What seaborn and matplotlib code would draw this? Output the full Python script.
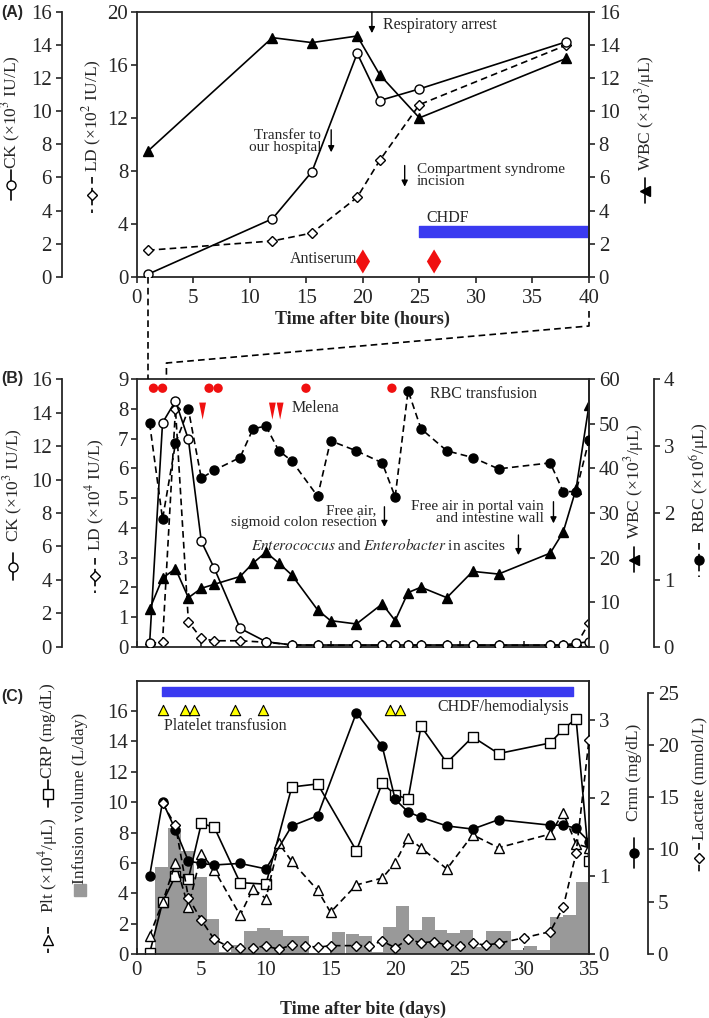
#!/usr/bin/env python3
# -*- coding: utf-8 -*-

"""
Time course of lab values after the bite, three stacked panels
"""

import numpy as np
import pandas as pd
import seaborn as sns
import matplotlib.pyplot as plt
from matplotlib.lines import Line2D
from matplotlib.path import Path

# ---- (A) first 40 hours ----
hours_a = [1, 12, 15.5, 19.5, 21.5, 25, 38]
ck_a = [0.15, 3.5, 6.35, 13.5, 10.65, 11.35, 14.2]
ld_a = [2.0, 2.7, 3.3, 6.0, 8.8, 13.0, 17.5]
wbc_a = [7.6, 14.45, 14.15, 14.55, 12.2, 9.6, 13.2]
antiserum_hours = [20.0, 26.3]

# ---- (B) days ----
days_b = [1, 2, 3, 4, 5, 6, 8, 9, 10, 11, 12, 14, 15, 17, 19, 20, 21, 22, 24, 26, 28, 32, 33, 34, 35]
wbc_b = [8.4, 15.4, 17.5, 11.0, 13.1, 14.0, 15.75, 18.75, 21.2, 18.75, 16.1, 8.25, 5.85, 5.1,
         9.6, 5.85, 12.15, 13.35, 11.0, 16.9, 16.3, 21.0, 25.7, 35.4, 54.2]
rbc_b = [3.34, 1.91, 3.04, 3.55, 2.52, 2.64, 2.83, 3.26, 3.3, 2.93, 2.78, 2.25, 3.08, 2.93,
         2.75, 2.24, 3.83, 3.26, 2.93, 2.83, 2.66, 2.75, 2.32, 2.32, 3.09]
ck_days_b = [1, 2, 3, 4, 5, 6, 8, 10, 12, 14, 17, 19, 20, 21, 22, 24, 26, 28, 32, 33, 34, 35]
ck_b = [0.2, 13.4, 14.7, 12.4, 6.3, 4.7, 1.1, 0.3, 0.1, 0.1, 0.1, 0.1, 0.1, 0.1, 0.1, 0.1,
        0.1, 0.1, 0.1, 0.1, 0.2, 0.3]
ld_b = [0.1, 0.17, 8.0, 0.84, 0.28, 0.2, 0.2, 0.15, 0.06, 0.05, 0.05, 0.05, 0.05, 0.05, 0.05,
        0.05, 0.05, 0.05, 0.05, 0.05, 0.05, 0.8]
rbc_transfusion_days = [1.3, 2.0, 5.6, 6.3, 13.1, 19.75]
melena_days = [5.1, 10.5, 11.1]

# ---- (C) days ----
crp_days = [1, 2, 3, 4, 5, 6, 8, 10, 12, 14, 17, 19, 20, 21, 22, 24, 26, 28, 32, 33, 34, 35]
crp = [0.05, 3.4, 5.15, 4.95, 8.6, 8.35, 4.7, 4.6, 11.0, 11.2, 6.8, 11.25, 10.5, 10.2, 15.0,
       12.6, 14.3, 13.2, 13.9, 14.8, 15.5, 6.1]
crnn = [1.0, 1.95, 1.59, 1.19, 1.16, 1.14, 1.16, 1.09, 1.64, 1.77, 3.09, 2.66, 1.98, 1.82,
        1.75, 1.64, 1.6, 1.72, 1.65, 1.65, 1.61, 1.44]
plt_days = [1, 2, 3, 4, 5, 6, 8, 9, 10, 11, 12, 14, 15, 17, 19, 20, 21, 22, 24, 26, 28, 32, 33, 34, 35]
plt_vals = [1.2, 3.4, 6.0, 3.1, 6.6, 5.55, 2.55, 4.3, 3.65, 7.3, 6.1, 4.2, 2.75, 4.55, 5.0,
            6.0, 7.65, 7.0, 5.6, 7.85, 7.0, 7.9, 9.3, 7.25, 7.0]
lactate_days = [2, 3, 4, 5, 6, 7, 8, 9, 10, 11, 12, 13, 14, 15, 17, 18, 19, 20, 21, 22, 23,
                24, 25, 26, 27, 28, 30, 32, 33, 34, 35]
lactate = [14.4, 12.3, 5.4, 3.25, 1.4, 0.77, 0.54, 0.6, 0.77, 0.45, 0.86, 0.8, 0.64, 0.8, 0.8,
           0.8, 1.24, 0.6, 1.4, 1.08, 1.18, 0.86, 0.8, 1.02, 0.86, 1.02, 1.56, 2.14, 4.47,
           9.63, 20.5]
infusion_x = [1.9, 2.9, 3.95, 4.95, 5.9, 6.85, 7.8, 8.8, 9.8, 10.8, 11.8, 12.8, 15.6, 16.7,
              17.7, 18.6, 19.55, 20.6, 21.6, 22.6, 23.55, 24.5, 25.5, 26.5, 27.5, 28.5, 29.5,
              30.5, 31.5, 32.5, 33.5, 34.5]
infusion = [5.7, 8.3, 6.8, 5.1, 2.3, 0.1, 0.6, 1.5, 1.7, 1.6, 1.2, 1.2, 1.45, 1.3, 1.2, 0.1,
            1.8, 3.15, 1.6, 2.45, 1.55, 1.4, 1.55, 0.45, 1.5, 1.5, 0.25, 0.5, 0.25, 2.45,
            2.55, 4.75]
platelet_days = [2.0, 3.7, 4.4, 7.6, 9.8, 19.6, 20.4]

sns.set_style("ticks")
plt.rcParams["font.family"] = ["Liberation Serif", "DejaVu Serif"]
plt.rcParams["mathtext.fontset"] = "stix"
plt.rcParams["axes.linewidth"] = 1.3
plt.rcParams["xtick.major.width"] = 1.2
plt.rcParams["ytick.major.width"] = 1.2
plt.rcParams["xtick.major.size"] = 4
plt.rcParams["ytick.major.size"] = 4

W, H = 709, 1018
BLUE = "#3a3af0"
RED = "#f01010"
TICK_FS = 15
LABEL_FS = 12.5
NOTE_FS = 11.5

DASH = (0, (4, 2.5))


def draw_line(ax, x, y, marker, dashed=False, filled=False, ms=6.5):
    sns.lineplot(x=x, y=y, ax=ax, color="black", lw=1.2,
                 linestyle=DASH if dashed else "-",
                 marker=marker, markersize=ms,
                 markerfacecolor="black" if filled else "white",
                 markeredgecolor="black", markeredgewidth=1.0,
                 estimator=None, sort=False, legend=False)


def make_twin(ax, side, pos=None):
    tw = ax.twinx()
    for s in tw.spines.values():
        s.set_visible(False)
    tw.spines[side].set_visible(True)
    if pos is not None:
        tw.spines[side].set_position(("axes", pos))
    tw.yaxis.set_ticks_position(side)
    tw.yaxis.set_label_position(side)
    tw.tick_params(axis="y", direction="out", labelsize=TICK_FS, pad=3)
    return tw


def down_arrow(ax, x, y0, y1):
    ax.annotate("", xy=(x, y1), xytext=(x, y0),
                arrowprops=dict(arrowstyle="-|>", color="black", lw=1.0,
                                mutation_scale=9, shrinkA=0, shrinkB=0))


def side_label(x_px, y_px, text):
    fig.text(x_px / W, 1 - y_px / H, text, rotation=90, ha="center", va="center",
             fontsize=LABEL_FS)


def side_symbol(x_px, y0_px, y1_px, marker, dashed=False, filled=False, ms=6.5):
    x = x_px / W
    fig.add_artist(Line2D([x, x], [1 - y0_px / H, 1 - y1_px / H], transform=fig.transFigure,
                          color="black", lw=1.2, linestyle=DASH if dashed else "-"))
    fig.add_artist(Line2D([x], [1 - (y0_px + y1_px) / 2 / H], transform=fig.transFigure,
                          marker=marker, ms=ms, mfc="black" if filled else "white",
                          mec="black", mew=1.0, linestyle="none"))


def style_main(ax, xmax, xstep, xlabels=True, xdir="out"):
    ax.set_xlim(0, xmax)
    ax.set_xticks(np.arange(0, xmax + 1, xstep))
    ax.tick_params(axis="x", direction=xdir, labelsize=TICK_FS, pad=5,
                   labelbottom=xlabels)
    ax.tick_params(axis="y", direction="out", labelsize=TICK_FS, pad=2)
    for s in ax.spines.values():
        s.set_visible(True)


fig = plt.figure(figsize=(W / 100, H / 100), dpi=100)
left = 136.7 / W
width = (589 - 136.7) / W
outer_left = -(136.7 - 61.7) / (589 - 136.7)

# ================= (A) =================
axA = fig.add_axes([left, 1 - 276.7 / H, width, (276.7 - 12) / H])
style_main(axA, 40, 5)
axA.set_ylim(0, 20)
axA.set_yticks(range(0, 21, 4))
axA.set_xlabel("Time after bite (hours)", fontsize=13, fontweight="bold", labelpad=2)

ckA = make_twin(axA, "left", outer_left)
ckA.set_ylim(0, 16)
ckA.set_yticks(range(0, 17, 2))
wbcA = make_twin(axA, "right")
wbcA.set_ylim(0, 16)
wbcA.set_yticks(range(0, 17, 2))

axA.broken_barh([(25, 15)], (3.0, 0.8), color=BLUE)
axA.text(25.6, 4.45, "CHDF", fontsize=NOTE_FS, va="center")
sns.scatterplot(x=antiserum_hours, y=[1.15] * len(antiserum_hours), ax=axA, marker="d",
                s=150, color=RED, edgecolor="none", legend=False)
axA.text(19.5, 1.3, "Antiserum", fontsize=NOTE_FS, ha="right", va="center")

draw_line(axA, hours_a, ld_a, "D", dashed=True, ms=5)
draw_line(ckA, hours_a, ck_a, "o")
draw_line(wbcA, hours_a, wbc_a, "^", filled=True)

down_arrow(axA, 20.8, 20.0, 18.4)
axA.text(21.8, 19.0, "Respiratory arrest", fontsize=NOTE_FS, va="center")
down_arrow(axA, 17.2, 11.1, 9.4)
axA.text(16.3, 10.2, "Transfer to\nour hospital", fontsize=11, ha="right", va="center",
         linespacing=0.9)
down_arrow(axA, 23.7, 8.4, 6.8)
axA.text(24.8, 7.65, "Compartment syndrome\nincision", fontsize=11, va="center",
         linespacing=0.9)

# ================= (B) =================
axB = fig.add_axes([left, 1 - 646.7 / H, width, (646.7 - 379.3) / H])
style_main(axB, 35, 5, xlabels=False, xdir="in")
axB.set_ylim(0, 9)
axB.set_yticks(range(0, 10))

ckB = make_twin(axB, "left", outer_left)
ckB.set_ylim(0, 16)
ckB.set_yticks(range(0, 17, 2))
wbcB = make_twin(axB, "right")
wbcB.set_ylim(0, 60)
wbcB.set_yticks(range(0, 61, 10))
rbcB = make_twin(axB, "right", 1 + (654 - 589) / (589 - 136.7))
rbcB.set_ylim(0, 4)
rbcB.set_yticks(range(0, 5))

sns.scatterplot(x=rbc_transfusion_days, y=[8.7] * len(rbc_transfusion_days), ax=axB,
                marker="o", s=45, color=RED, edgecolor="none", legend=False)
narrow_v = Path([(-0.4, 1.0), (0.4, 1.0), (0.0, -1.0), (-0.4, 1.0)])
sns.scatterplot(x=melena_days, y=[7.93] * len(melena_days), ax=axB, marker=narrow_v,
                s=150, color=RED, edgecolor="none", legend=False)
axB.text(12.0, 8.02, "Melena", fontsize=NOTE_FS, va="center")
axB.text(22.7, 8.5, "RBC transfusion", fontsize=NOTE_FS, va="center")

draw_line(axB, ck_days_b, ld_b, "D", dashed=True, ms=5)
draw_line(ckB, ck_days_b, ck_b, "o")
draw_line(wbcB, days_b, wbc_b, "^", filled=True)
draw_line(rbcB, days_b, rbc_b, "o", dashed=True, filled=True)

down_arrow(axB, 19.17, 4.71, 4.03)
axB.text(18.58, 4.39, "Free air,\nsigmoid colon resection", fontsize=11, ha="right",
         va="center", linespacing=0.9)
down_arrow(axB, 32.25, 4.88, 4.15)
axB.text(31.47, 4.51, "Free air in portal vain\nand intestine wall", fontsize=11, ha="right",
         va="center", linespacing=0.9)
down_arrow(axB, 29.54, 3.76, 3.08)
axB.text(28.58, 3.42, r"$\it{Enterococcus}$ and $\it{Enterobacter}$ in ascites",
         fontsize=11, ha="right", va="center")

# ================= (C) =================
axC = fig.add_axes([left, 1 - 954 / H, width, (954 - 680.7) / H])
style_main(axC, 35, 5, xdir="in")
axC.set_ylim(0, 18)
axC.set_yticks(range(0, 17, 2))
axC.set_xlabel("Time after bite (days)", fontsize=13, fontweight="bold", labelpad=15)

crnnC = make_twin(axC, "right")
crnnC.set_ylim(0, 3.5)
crnnC.set_yticks(range(0, 4))
lacC = make_twin(axC, "right", 1 + (648 - 589) / (589 - 136.7))
lacC.set_ylim(0, 25 * 273.3 / 261.3)
lacC.set_yticks(range(0, 26, 5))
lacC.spines["right"].set_bounds(0, 25)

axC.bar(infusion_x, infusion, width=1.0, color="#999999", linewidth=0, zorder=1)
axC.broken_barh([(1.95, 31.8)], (16.97, 0.6), color=BLUE)
sns.scatterplot(x=platelet_days, y=[16.05] * len(platelet_days), ax=axC, marker="^", s=55,
                color="#ffff00", edgecolor="black", linewidth=0.8, legend=False)
axC.text(2.1, 15.0, "Platelet transfusion", fontsize=NOTE_FS, va="center")
axC.text(33.45, 16.3, "CHDF/hemodialysis", fontsize=NOTE_FS, ha="right", va="center")

draw_line(axC, crp_days, crp, "s")
draw_line(axC, plt_days, plt_vals, "^", dashed=True)
draw_line(crnnC, crp_days, crnn, "o", filled=True)
draw_line(lacC, lactate_days, lactate, "D", dashed=True, ms=5)

# ---- side labels with their little symbols ----
side_label(11, 112, r"CK (×10$^{3}$ IU/L)")
side_symbol(11, 170, 200, "o")
side_label(92, 116, r"LD (×10$^{2}$ IU/L)")
side_symbol(92, 177, 213, "D", dashed=True, ms=5)
side_label(645, 113, r"WBC (×10$^{3}$/μL)")
side_symbol(645, 178, 203, "<", filled=True)

side_label(13, 485, r"CK (×10$^{3}$ IU/L)")
side_symbol(13, 553, 580, "o")
side_label(95, 495, r"LD (×10$^{4}$ IU/L)")
side_symbol(95, 558, 593, "D", dashed=True, ms=5)
side_label(634, 481, r"WBC (×10$^{3}$/μL)")
side_symbol(634, 547, 572, "<", filled=True)
side_label(699, 478, r"RBC (×10$^{6}$/μL)")
side_symbol(699, 543, 577, "o", dashed=True, filled=True)

side_label(48, 731, "CRP (mg/dL)")
side_symbol(48, 780, 807, "s")
side_label(48, 865, r"Plt (×10$^{4}$/μL)")
side_symbol(48, 927, 953, "^", dashed=True)
side_label(80, 798, "Infusion volume (L/day)")
fig.add_artist(Line2D([80 / W], [1 - 890 / H], transform=fig.transFigure, marker="s", ms=8,
                      mfc="#999999", mec="#999999", linestyle="none"))
side_label(634, 772, "Crnn (mg/dL)")
side_symbol(634, 838, 868, "o", filled=True)
side_label(699, 778, "Lactate (mmol/L)")
side_symbol(699, 843, 872, "D", dashed=True, ms=5)

# ---- panel letters ----
for letter, y_px in [("(A)", 13), ("(B)", 379), ("(C)", 697)]:
    fig.text(0.002, 1 - y_px / H, letter, fontsize=11.5, fontweight="bold",
             family="Liberation Sans", va="center", ha="left")

# ---- dashed zoom connector between (A) and (B) ----
to_fig = fig.transFigure.inverted()
a_left = to_fig.transform(axA.transData.transform((1, 0)))
a_right = to_fig.transform(axA.transData.transform((40, 0)))
b_left = to_fig.transform(axB.transData.transform((0.85, 9)))
b_mid = to_fig.transform(axB.transData.transform((2.3, 9)))
fig.add_artist(Line2D([a_left[0], a_left[0]], [a_left[1], b_left[1]],
                      transform=fig.transFigure, color="black", lw=1.2, linestyle=DASH))
fig.add_artist(Line2D([a_right[0], a_right[0], b_mid[0], b_mid[0]],
                      [1 - 311 / H, 1 - 326 / H, 1 - 363 / H, b_mid[1]],
                      transform=fig.transFigure, color="black", lw=1.2, linestyle=DASH))

fig.savefig("out.png", dpi=100)
